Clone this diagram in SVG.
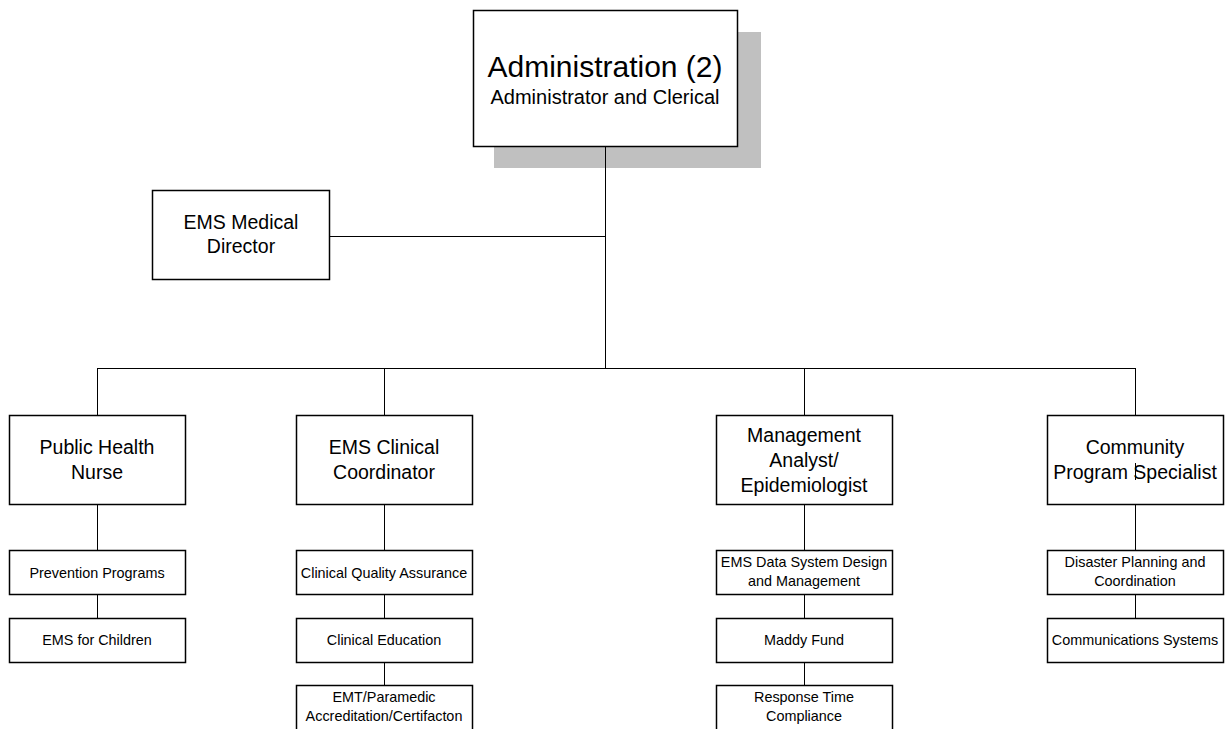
<svg xmlns="http://www.w3.org/2000/svg" width="1225" height="729" viewBox="0 0 1225 729">
<style>
.box{fill:#fff;stroke:#000;stroke-width:1.5}
.ln{stroke:#000;stroke-width:1;fill:none}
text{font-family:"Liberation Sans",Arial,sans-serif;fill:#000;text-anchor:middle}
.big{font-size:19.5px}
.sm{font-size:14.4px}
</style>
<rect width="1225" height="729" fill="#fff"/>
<g id="admin">
<rect x="494" y="32" width="267" height="136" fill="#c0c0c0"/>
<rect class="box" x="473.5" y="10.5" width="264" height="136"/>
<text x="605" y="77" font-size="30">Administration (2)</text>
<text x="605" y="104" font-size="20">Administrator and Clerical</text>
</g>
<g id="connectors">
<path class="ln" d="M605.5 147V368.5M330 236.5H605.5M97.5 368.5H1135.5M97.5 368V415M384.5 368V415M804.5 368V415M1135.5 368V415"/>
<path class="ln" d="M97.5 505V550M97.5 595V618"/>
<path class="ln" d="M384.5 505V550M384.5 595V618M384.5 663V685"/>
<path class="ln" d="M804.5 505V550M804.5 595V618M804.5 663V685"/>
<path class="ln" d="M1135.5 505V550M1135.5 595V618"/>
</g>
<g id="medical-director">
<rect class="box" x="152.5" y="190.5" width="177" height="89"/>
<text x="241" y="229" class="big">EMS Medical</text>
<text x="241" y="253" class="big">Director</text>
</g>
<g id="public-health-nurse">
<rect class="box" x="9.5" y="415.5" width="176" height="89"/>
<text x="97" y="454" class="big">Public Health</text>
<text x="97" y="479" class="big">Nurse</text>
</g>
<g id="clinical-coordinator">
<rect class="box" x="296.5" y="415.5" width="176" height="89"/>
<text x="384" y="454" class="big">EMS Clinical</text>
<text x="384" y="479" class="big">Coordinator</text>
</g>
<g id="management-analyst">
<rect class="box" x="716.5" y="415.5" width="176" height="89"/>
<text x="804" y="442" class="big">Management</text>
<text x="804" y="467" class="big">Analyst/</text>
<text x="804" y="492" class="big">Epidemiologist</text>
</g>
<g id="community-program-specialist">
<rect class="box" x="1047.5" y="415.5" width="176" height="89"/>
<text x="1135" y="454" class="big">Community</text>
<text x="1135" y="479" class="big">Program Specialist</text>
<line class="ln" x1="1135.5" y1="463" x2="1135.5" y2="480" stroke="#555"/>
</g>
<g id="prevention-programs">
<rect class="box" x="9.5" y="550.5" width="176" height="44"/>
<text x="97" y="578" class="sm">Prevention Programs</text>
</g>
<g id="ems-for-children">
<rect class="box" x="9.5" y="618.5" width="176" height="44"/>
<text x="97" y="645" class="sm">EMS for Children</text>
</g>
<g id="clinical-quality-assurance">
<rect class="box" x="296.5" y="550.5" width="176" height="44"/>
<text x="384" y="578" class="sm">Clinical Quality Assurance</text>
</g>
<g id="clinical-education">
<rect class="box" x="296.5" y="618.5" width="176" height="44"/>
<text x="384" y="645" class="sm">Clinical Education</text>
</g>
<g id="emt-paramedic">
<rect class="box" x="296.5" y="685.5" width="176" height="50"/>
<text x="384" y="702" class="sm">EMT/Paramedic</text>
<text x="384" y="721" class="sm">Accreditation/Certifacton</text>
</g>
<g id="ems-data-system">
<rect class="box" x="716.5" y="550.5" width="176" height="44"/>
<text x="804" y="567" class="sm">EMS Data System Design</text>
<text x="804" y="586" class="sm">and Management</text>
</g>
<g id="maddy-fund">
<rect class="box" x="716.5" y="618.5" width="176" height="44"/>
<text x="804" y="645" class="sm">Maddy Fund</text>
</g>
<g id="response-time">
<rect class="box" x="716.5" y="685.5" width="176" height="50"/>
<text x="804" y="702" class="sm">Response Time</text>
<text x="804" y="721" class="sm">Compliance</text>
</g>
<g id="disaster-planning">
<rect class="box" x="1047.5" y="550.5" width="176" height="44"/>
<text x="1135" y="567" class="sm">Disaster Planning and</text>
<text x="1135" y="586" class="sm">Coordination</text>
</g>
<g id="communications-systems">
<rect class="box" x="1047.5" y="618.5" width="176" height="44"/>
<text x="1135" y="645" class="sm">Communications Systems</text>
</g>
</svg>
